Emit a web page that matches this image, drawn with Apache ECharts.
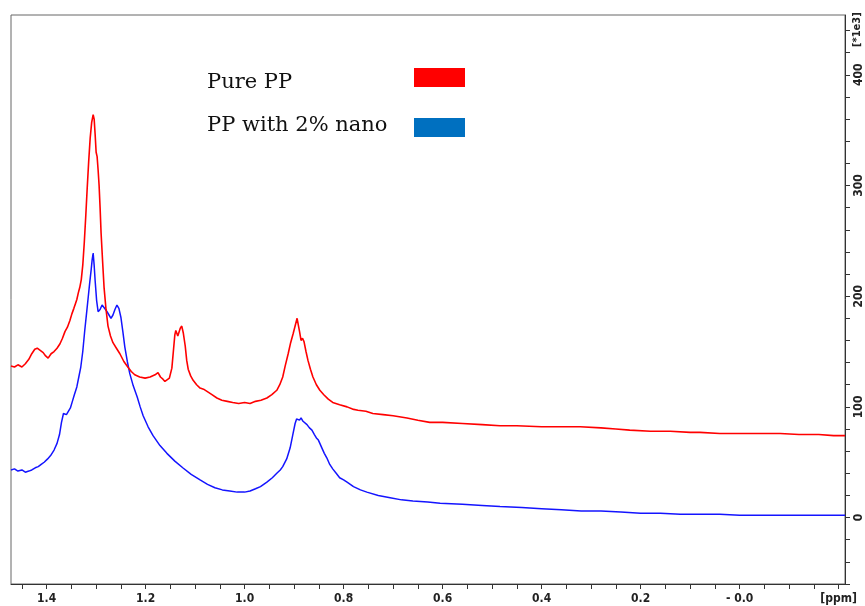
<!DOCTYPE html>
<html>
<head>
<meta charset="utf-8">
<script src="https://cdn.jsdelivr.net/npm/echarts@6/dist/echarts.min.js"></script>
<style>
html,body{margin:0;padding:0;background:#fff;}
#chart{width:865px;height:606px;}
</style>
</head>
<body>
<div id="chart"></div>
<script>
// ---- data (ppm, intensity in 1e3 units) ----
const redPpm = [1.472,1.465,1.458,1.450,1.443,1.436,1.430,1.424,1.419,1.413,1.407,1.402,1.397,1.391,1.385,1.379,1.373,1.368,1.363,1.358,1.353,1.349,1.345,1.342,1.339,1.336,1.333,1.330,1.327,1.324,1.321,1.318,1.315,1.312,1.309,1.306,1.304,1.302,1.300,1.298,1.296,1.294,1.292,1.290,1.287,1.284,1.280,1.276,1.271,1.266,1.259,1.252,1.244,1.236,1.229,1.222,1.212,1.201,1.191,1.181,1.175,1.170,1.165,1.161,1.157,1.152,1.147,1.144,1.141,1.139,1.137,1.135,1.133,1.130,1.127,1.124,1.120,1.117,1.114,1.109,1.104,1.097,1.090,1.083,1.076,1.066,1.056,1.046,1.035,1.024,1.012,1.000,0.989,0.978,0.967,0.955,0.945,0.935,0.929,0.923,0.918,0.912,0.907,0.902,0.898,0.894,0.892,0.889,0.886,0.883,0.880,0.876,0.872,0.867,0.862,0.855,0.848,0.840,0.831,0.822,0.808,0.793,0.782,0.771,0.755,0.741,0.720,0.700,0.672,0.650,0.626,0.600,0.560,0.520,0.484,0.450,0.400,0.360,0.322,0.280,0.250,0.222,0.180,0.140,0.100,0.080,0.040,0.000,-0.040,-0.082,-0.120,-0.160,-0.190,-0.213];
const redVal = [137,136,138,136,139,143,148,152,153,151,149,146,144,148,150,153,157,162,168,172,178,184,189,193,197,203,208,215,228,248,272,298,322,343,357,364,360,346,330,326,314,300,280,257,232,208,188,173,164,158,153,148,141,136,132,129,127,126,127,129,131,127,125,123,122,126,135,150,165,169,168,164,165,171,173,167,155,142,134,128,124,120,117,116,114,111,108,106,105,104,103,104,103,105,106,108,111,115,120,127,137,148,158,166,173,180,181,168,160,162,159,150,142,134,127,120,115,111,107,104,102,100,98,97,96,94,93,92,90,88,86,86,85,84,83,83,82,82,82,81,80,79,78,78,77,77,76,76,76,76,75,75,74,74];

const bluePpm = [1.472,1.465,1.458,1.450,1.443,1.436,1.430,1.423,1.417,1.411,1.405,1.398,1.392,1.385,1.379,1.374,1.370,1.366,1.363,1.360,1.356,1.352,1.348,1.344,1.339,1.335,1.331,1.327,1.323,1.319,1.316,1.313,1.310,1.308,1.306,1.304,1.302,1.299,1.296,1.292,1.288,1.285,1.281,1.278,1.274,1.270,1.266,1.262,1.258,1.254,1.250,1.246,1.242,1.237,1.232,1.225,1.217,1.211,1.205,1.195,1.185,1.171,1.157,1.141,1.125,1.108,1.090,1.075,1.060,1.045,1.030,1.015,1.000,0.989,0.978,0.968,0.955,0.944,0.935,0.928,0.923,0.915,0.908,0.903,0.898,0.895,0.892,0.889,0.886,0.882,0.878,0.874,0.869,0.864,0.859,0.855,0.851,0.848,0.844,0.839,0.834,0.828,0.822,0.815,0.808,0.800,0.793,0.780,0.766,0.753,0.730,0.706,0.683,0.660,0.630,0.605,0.560,0.520,0.484,0.440,0.400,0.360,0.320,0.280,0.240,0.200,0.160,0.120,0.080,0.040,0.000,-0.040,-0.080,-0.120,-0.160,-0.213];
const blueVal = [43,44,42,43,41,42,43,45,46,48,50,53,56,61,67,75,86,94,95,93,94,99,105,111,118,127,136,150,169,186,199,212,224,233,239,228,214,196,186,188,192,191,188,186,183,180,183,188,192,189,181,168,154,141,130,119,109,100,92,82,74,65,58,51,45,39,34,30,27,25,24,23,23,24,26,28,32,36,40,43,46,53,63,74,85,89,90,88,90,87,86,84,81,79,75,72,70,67,63,58,54,48,44,40,36,34,32,28,25,23,20,18,16,15,14,13,12,11,10,9,8,7,6,6,5,4,4,3,3,3,2,2,2,2,2,2];

const xTickVals = [1.45,1.4,1.35,1.3,1.25,1.2,1.15,1.1,1.05,1.0,0.95,0.9,0.85,0.8,0.75,0.7,0.65,0.6,0.55,0.5,0.45,0.4,0.35,0.3,0.25,0.2,0.15,0.1,0.05,0.0,-0.05,-0.1,-0.15,-0.2];
const xLabelVals = [1.4,1.2,1.0,0.8,0.6,0.4,0.2,0.0,-0.2];
const xLabelText = ['1.4','1.2','1.0','0.8','0.6','0.4','0.2','- 0.0','[ppm]'];
const yTickVals = [-60,-40,-20,0,20,40,60,80,100,120,140,160,180,200,220,240,260,280,300,320,340,360,380,400,420,440];
const yLabelVals = [0,100,200,300,400];
const legendNames = ['Pure PP','PP with 2% nano'];
const seriesColors = ['#ff0000','#1414ff'];
const swatchColors = ['#ff0000','#0070c0'];

function pairs(xs, ys){ return xs.map((x,i)=>[x, ys[i]]); }

const chart = echarts.init(document.getElementById('chart'), null, {renderer:'canvas'});
const labelFont = {fontFamily:'"Liberation Sans Narrow","DejaVu Sans Condensed","Liberation Sans",sans-serif', fontWeight:'bold', fontSize:12, color:'#222'};

chart.setOption({
  animation:false,
  backgroundColor:'#fff',
  grid:{left:11, right:20, top:15, bottom:22, show:true, borderColor:'#666', borderWidth:1, containLabel:false},
  xAxis:{
    type:'value', inverse:true, min:-0.213, max:1.472,
    axisLine:{show:true, onZero:false, lineStyle:{color:'#333', width:1}},
    splitLine:{show:false},
    axisTick:{show:true, inside:false, length:5, customValues:xTickVals, lineStyle:{color:'#333'}},
    axisLabel:Object.assign({show:true, margin:9, customValues:xLabelVals,
      formatter:function(v){ const i = xLabelVals.findIndex(t=>Math.abs(t-v)<1e-6); return i>=0 ? xLabelText[i] : ''; }}, labelFont)
  },
  yAxis:{
    type:'value', position:'right', min:-60, max:454,
    axisLine:{show:true, onZero:false, lineStyle:{color:'#333', width:1}},
    splitLine:{show:false},
    axisTick:{show:true, inside:false, length:5, customValues:yTickVals, lineStyle:{color:'#333'}},
    axisLabel:Object.assign({show:true, margin:8, rotate:90, customValues:yLabelVals,
      formatter:function(v){ return String(Math.round(v)); }}, labelFont)
  },
  series:[
    {name:legendNames[1], type:'line', data:pairs(bluePpm, blueVal), showSymbol:false, symbol:'none', lineStyle:{color:seriesColors[1], width:1.5}, z:2},
    {name:legendNames[0], type:'line', data:pairs(redPpm, redVal), showSymbol:false, symbol:'none', lineStyle:{color:seriesColors[0], width:1.6}, z:3}
  ],
  graphic:[
    {type:'text', left:207, top:72, style:{text:legendNames[0], font:'21px "DejaVu Serif"', fill:'#111'}},
    {type:'text', left:207, top:115, style:{text:legendNames[1], font:'21px "DejaVu Serif"', fill:'#111'}},
    {type:'rect', shape:{x:414, y:68, width:51, height:19}, style:{fill:swatchColors[0]}},
    {type:'rect', shape:{x:414, y:118, width:51, height:19}, style:{fill:swatchColors[1]}},
    {type:'text', x:852, y:47, rotation:Math.PI/2, style:{text:'[*1e3]', font:'bold 11px "Liberation Sans Narrow","DejaVu Sans Condensed",sans-serif', fill:'#222'}}
  ]
});
</script>
</body>
</html>
